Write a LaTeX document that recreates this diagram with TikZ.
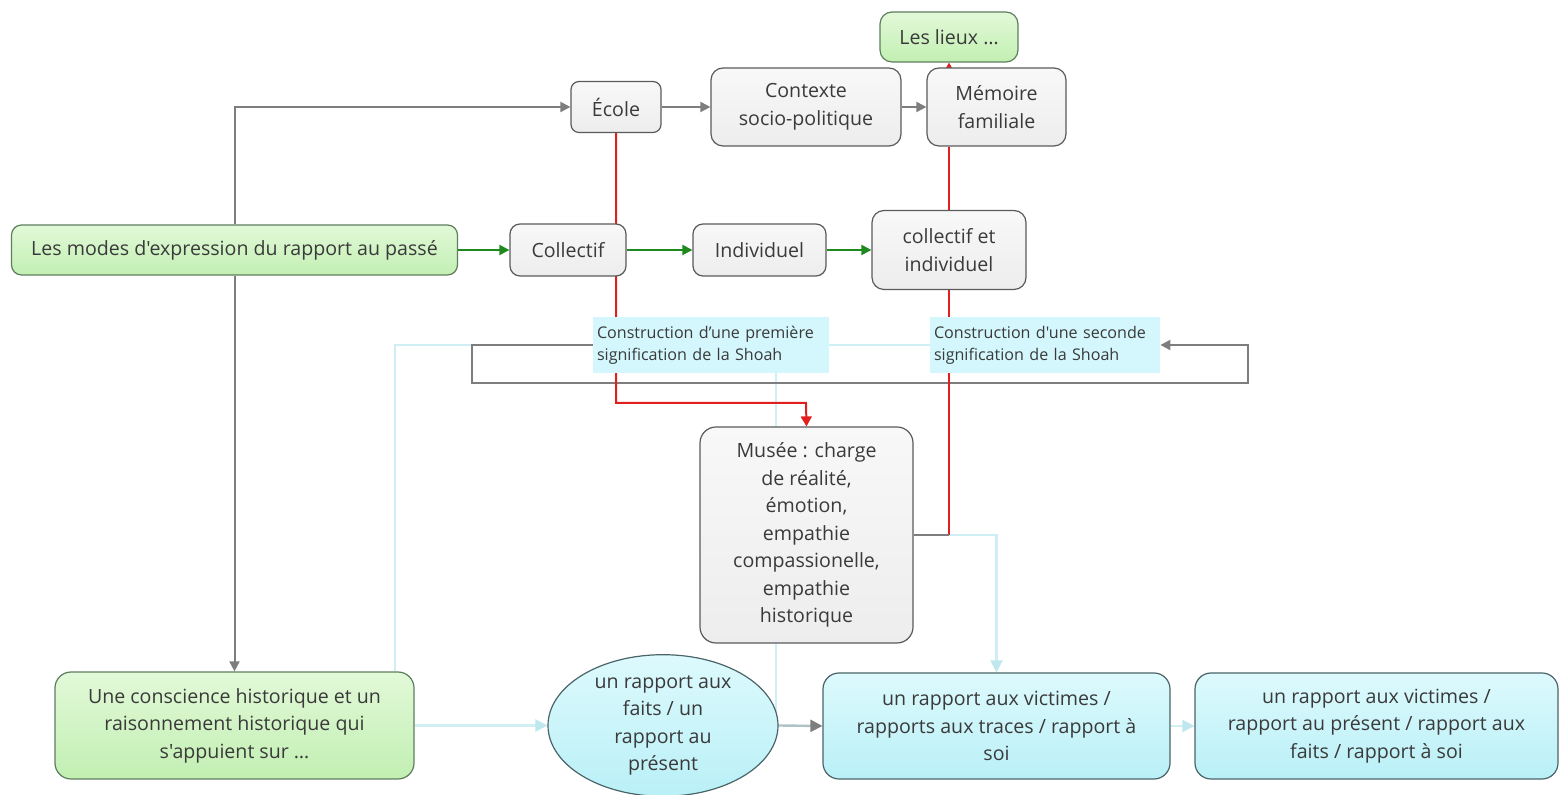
\documentclass[tikz,border=0pt]{standalone}
\usepackage{fontspec}
\setmainfont{Open Sans}[Ligatures=TeXOff]
\usetikzlibrary{arrows.meta,shapes.geometric,backgrounds}
\definecolor{txt}{HTML}{3A3A3A}
\definecolor{bord}{HTML}{5A5A5A}
\definecolor{gbord}{HTML}{5E7E5E}
\definecolor{cbord}{HTML}{4A6468}
\definecolor{greenA}{HTML}{E2F9D8}
\definecolor{greenB}{HTML}{C2EFB2}
\definecolor{grayA}{HTML}{F8F8F8}
\definecolor{grayB}{HTML}{EDEDED}
\definecolor{cyanA}{HTML}{DDFAFD}
\definecolor{cyanB}{HTML}{B9F0F7}
\definecolor{lab}{HTML}{D3F7FC}
\definecolor{redl}{HTML}{E0201E}
\definecolor{greenl}{HTML}{1E8A1E}
\definecolor{grayl}{HTML}{7E7E7E}
\definecolor{faint}{HTML}{CFEFF4}
\definecolor{faintarr}{HTML}{BFE8EE}
\begin{document}
\begin{tikzpicture}[x=0.5pt,y=-0.5pt,
  box/.style={draw=bord, line width=0.6pt, rounded corners=6pt, align=center,
    text=txt, inner sep=2pt, font=\fontsize{9.8}{13.75}\selectfont},
  graybox/.style={box, top color=grayA, bottom color=grayB},
  greenbox/.style={box, draw=gbord, top color=greenA, bottom color=greenB},
  cyanbox/.style={box, draw=cbord, top color=cyanA, bottom color=cyanB},
  labelbox/.style={fill=lab, text=txt, align=left, inner xsep=2pt, inner ysep=0pt,
    font=\fontsize{8.05}{11}\selectfont},
  grayarrow/.style={draw=grayl, line width=1pt, -{Triangle[length=5pt,width=5pt]}},
  grayline/.style={draw=grayl, line width=1pt},
  redarrow/.style={draw=redl, line width=1pt, -{Triangle[length=5pt,width=5.5pt]}},
  redline/.style={draw=redl, line width=1pt},
  greenarrow/.style={draw=greenl, line width=1.1pt, -{Triangle[length=5pt,width=5pt]}},
  faintline/.style={draw=faint, line width=1pt},
  faintarrow/.style={draw=faint, line width=1.2pt, -{Triangle[length=6pt,width=6pt,fill=faintarr,color=faintarr]}},
]
\useasboundingbox (0,0) rectangle (1559,795);

% nodes
\node[greenbox, minimum width=69pt, minimum height=25pt] (lieux) at (949,37) {Les lieux …};
\node[graybox, rounded corners=4pt, minimum width=45pt, minimum height=25.5pt] (ecole) at (616,107) {École};
\node[graybox, minimum width=95pt, minimum height=39pt] (contexte) at (806,107) {Contexte\\socio-politique};
\node[graybox, minimum width=69.5pt, minimum height=39pt] (memoire) at (996.5,107) {Mémoire\\familiale};
\node[greenbox, rounded corners=5pt, minimum width=223pt, minimum height=25pt] (modes) at (234.5,250) {Les modes d'expression du rapport au passé};
\node[graybox, rounded corners=5pt, minimum width=58pt, minimum height=26pt] (collectif) at (568,250) {Collectif};
\node[graybox, rounded corners=5pt, minimum width=66.5pt, minimum height=26pt] (individuel) at (759.5,250) {Individuel};
\node[graybox, minimum width=77pt, minimum height=39.5pt] (ci) at (949,250) {collectif et\\individuel};
\node[labelbox, text width=114pt, minimum height=28pt] (c1) at (711,345) {Construction d’une première\\signification de la Shoah};
\node[labelbox, text width=111pt, minimum height=28pt] (c2) at (1045,345) {Construction d'une seconde\\signification de la Shoah};
\node[graybox, rounded corners=8pt, minimum width=106.5pt, minimum height=108pt] (musee) at (806.5,535) {Musée : charge\\de réalité,\\émotion,\\empathie\\compassionelle,\\empathie\\historique};
\node[greenbox, rounded corners=8pt, minimum width=179.5pt, minimum height=53.5pt] (conscience) at (234.5,725.5) {Une conscience historique et un\\raisonnement historique qui\\s'appuient sur …};
\node[ellipse, draw=cbord, line width=0.6pt, top color=cyanA, bottom color=cyanB, text=txt, align=center,
  inner sep=0pt, minimum width=115pt, minimum height=67.5pt, font=\fontsize{9.8}{13.75}\selectfont] (faits) at (663,725.5) {un rapport aux\\faits / un\\rapport au\\présent};
\node[cyanbox, rounded corners=8pt, minimum width=173.5pt, minimum height=53pt] (victimes) at (996.5,726) {un rapport aux victimes /\\rapports aux traces / rapport à\\soi};
\node[cyanbox, rounded corners=8pt, minimum width=181.5pt, minimum height=53pt] (present) at (1376.5,726) {un rapport aux victimes /\\rapport au présent / rapport aux\\faits / rapport à soi};

% helper coordinates
\coordinate (rb) at (806,403);
\coordinate (la) at (472,383);
\coordinate (lb) at (1248,383);
\coordinate (ca) at (395,345);
\coordinate (fv) at (776,383);
\coordinate (fend) at (776,725);

\begin{pgfonlayer}{background}
% faint cyan connectors
\draw[faintline] (ca |- conscience.north) -- (ca) -- (ca -| c2.west);
\draw[faintline] (fv |- c1.south) -- (fend);
\draw[faintarrow] (musee.east) -- (musee.east -| victimes.north) -- (victimes.north);
\draw[faintarrow] (conscience.east) -- (faits.west);
\draw[faintarrow] (victimes.east) -- (present.west);
\draw[draw=faint!60!gray, line width=1.2pt, -{Triangle[length=6pt,width=6pt,fill=grayl,color=grayl]}] (faits.east) -- (victimes.west);
% gray connectors
\draw[grayarrow] (modes.north) |- (ecole.west);
\draw[grayarrow] (modes.south) -- (conscience.north);
\draw[grayarrow] (ecole.east) -- (contexte.west);
\draw[grayarrow] (contexte.east) -- (memoire.west);
\draw[grayarrow] (c1.west) -| (la) -- (lb) |- (c2.east);
% red connectors
\draw[redarrow] (lieux.south |- memoire.north) -- (lieux.south);
\draw[redline] (lieux.south |- memoire.south) -- (lieux.south |- musee.east);
\draw[draw=grayl, line width=0.8pt] (lieux.south |- musee.east) -- (musee.east);
\draw[redarrow] (ecole.south) |- (rb) -- (musee.north);
% green connectors
\draw[greenarrow] (modes.east) -- (collectif.west);
\draw[greenarrow] (collectif.east) -- (individuel.west);
\draw[greenarrow] (individuel.east) -- (ci.west);
\end{pgfonlayer}
\end{tikzpicture}
\end{document}
